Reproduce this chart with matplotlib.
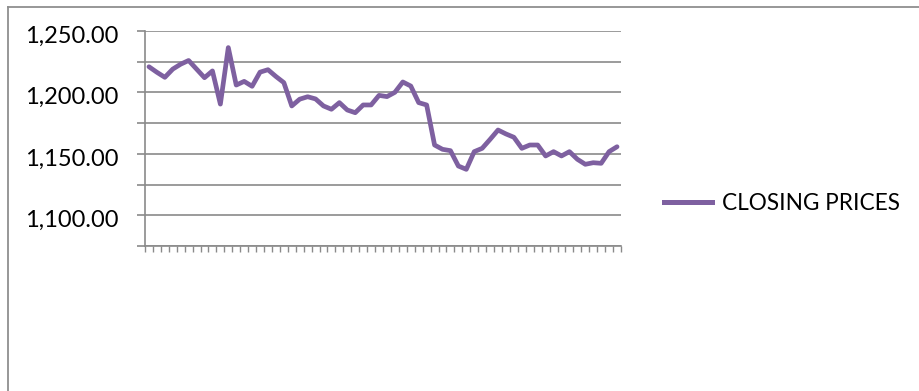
import matplotlib
matplotlib.use("Agg")
import matplotlib.pyplot as plt
from matplotlib.lines import Line2D
from matplotlib.ticker import FixedLocator, FuncFormatter
import matplotlib.transforms as mtransforms

# Daily closing prices
closing_prices = [
    1220.9, 1216.4, 1212.3, 1219.0, 1223.0, 1226.0, 1219.0, 1212.0, 1217.5, 1190.5,
    1236.5, 1206.0, 1209.0, 1205.0, 1216.5, 1218.5, 1213.0, 1208.0, 1189.0, 1194.5,
    1196.5, 1194.7, 1189.0, 1186.3, 1191.7, 1185.7, 1183.5, 1189.8, 1189.8, 1197.6,
    1196.6, 1200.1, 1208.5, 1205.2, 1191.7, 1189.8, 1157.2, 1153.7, 1152.6, 1140.1,
    1137.4, 1151.8, 1154.5, 1161.8, 1169.4, 1166.2, 1163.5, 1154.5, 1157.2, 1157.2,
    1148.3, 1151.8, 1148.3, 1151.8, 1145.6, 1141.5, 1142.8, 1142.3, 1151.8, 1155.8,
]
series_name = "CLOSING PRICES"
y_labels = [1100, 1150, 1200, 1250]
y_minor = [1075, 1125, 1175, 1225]

W, H, DPI = 919, 391, 100
LINE_COLOR = "#7e60a0"
GRID_COLOR = "#8a8a8a"
FONT = "Lato"

fig = plt.figure(figsize=(W / DPI, H / DPI), dpi=DPI)
fig.patch.set_facecolor("white")

# plot area in pixel coordinates
left, right, top, bottom = 145, 621, 31, 246
ax = fig.add_axes([left / W, 1 - bottom / H, (right - left) / W, (bottom - top) / H])

n = len(closing_prices)
ax.plot(range(n), closing_prices, color=LINE_COLOR, lw=3.4,
        solid_joinstyle="round", solid_capstyle="round", label=series_name, zorder=3)

ax.set_xlim(-0.5, n - 0.5)
ax.set_ylim(1075, 1250)

# category tick marks between points
ax.xaxis.set_major_locator(FixedLocator([i - 0.5 for i in range(n + 1)]))
ax.tick_params(axis="x", direction="out", length=4.3, width=1.0, color=GRID_COLOR,
               labelbottom=False)

ax.yaxis.set_major_locator(FixedLocator(y_labels))
ax.yaxis.set_minor_locator(FixedLocator(y_minor))
ax.yaxis.set_major_formatter(FuncFormatter(lambda v, p: f"{v:,.2f}"))
ax.tick_params(axis="y", which="both", direction="out", length=5.8, width=1.2,
               color=GRID_COLOR, pad=13.5, labelsize=17)
for lab in ax.get_yticklabels():
    lab.set_fontfamily(FONT)
    lab.set_color("black")
    lab.set_transform(lab.get_transform() +
                      mtransforms.ScaledTranslation(0, -3 / DPI, fig.dpi_scale_trans))

ax.grid(True, axis="y", which="both", color=GRID_COLOR, lw=1.2)
ax.set_axisbelow(True)

for side in ("top", "right"):
    ax.spines[side].set_visible(False)
for side in ("left", "bottom"):
    ax.spines[side].set_color(GRID_COLOR)
    ax.spines[side].set_linewidth(1.2)

# legend to the right of the plot area
handle = Line2D([], [], color=LINE_COLOR, lw=3.6)
fontsize = 16.3
fpx = fontsize * DPI / 72
fig.legend([handle], [series_name], loc="center left",
           bbox_to_anchor=(664 / W, 1 - 203 / H), frameon=False,
           handlelength=48 / fpx, handletextpad=10 / fpx, borderpad=0,
           borderaxespad=0, prop={"family": FONT, "size": fontsize})

# chart frame (top and left edges)
frame_kw = dict(color="#8f8f8f", lw=1.3, transform=fig.transFigure)
fig.add_artist(Line2D([8 / W, 1], [1 - 7 / H, 1 - 7 / H], **frame_kw))
fig.add_artist(Line2D([8 / W, 8 / W], [0, 1 - 7 / H], **frame_kw))

fig.savefig("out.png", dpi=DPI, facecolor="white")
